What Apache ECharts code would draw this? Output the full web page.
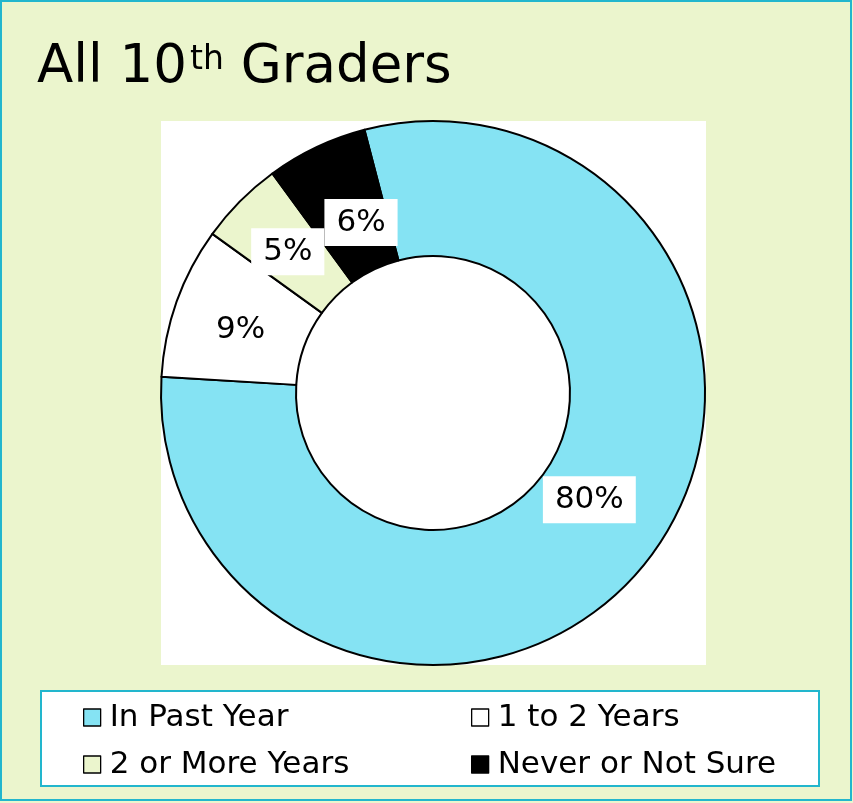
<!DOCTYPE html>
<html>
<head>
<meta charset="utf-8">
<script src="https://cdn.jsdelivr.net/npm/echarts@6/dist/echarts.min.js"></script>
<style>html,body{margin:0;padding:0;background:#EBF5CD}#c{width:853px;height:803px}</style>
</head>
<body>
<div id="c"></div>
<script>
var categories = ['In Past Year', '1 to 2 Years', '2 or More Years', 'Never or Not Sure'];
var values = [80, 9, 5, 6];
var colors = ['#85E3F3', '#FFFFFF', '#EBF5CD', '#000000'];

var FONT = '"DejaVu Sans", Verdana, sans-serif';
var chart = echarts.init(document.getElementById('c'), null, {renderer: 'canvas'});

var legendPos = [[78, 697], [466, 697], [78, 744], [466, 744]];
var legends = categories.map(function (name, i) {
  return {
    data: [name], left: legendPos[i][0], top: legendPos[i][1],
    orient: 'horizontal', itemWidth: 17, itemHeight: 17, itemGap: 0,
    icon: 'rect', selectedMode: false,
    itemStyle: {borderColor: '#000', borderWidth: 1.3},
    textStyle: {fontFamily: FONT, fontSize: 31, color: '#000', padding: [0, 0, 0, 4]}
  };
});

var labelOffsets = [[-4, -25], [3, 7], [2, 5], [17, 17]];

chart.setOption({
  backgroundColor: '#EBF5CD',
  animation: false,
  title: {
    left: 32, top: 30,
    text: '{a|All 10}{s|th}{a| Graders}',
    textStyle: {
      rich: {
        a: {fontFamily: FONT, fontSize: 53, fontWeight: 'normal', color: '#000', lineHeight: 60, verticalAlign: 'bottom'},
        s: {fontFamily: FONT, fontSize: 33, fontWeight: 'normal', color: '#000', lineHeight: 50, verticalAlign: 'top', padding: [9, 0, 0, 3]}
      }
    }
  },
  graphic: [
    {type: 'rect', z: -10, shape: {x: 1, y: 1, width: 850, height: 799}, style: {fill: '#EBF5CD', stroke: '#22B6CD', lineWidth: 2}},
    {type: 'rect', z: -9, shape: {x: 161, y: 121, width: 545, height: 544}, style: {fill: '#FFFFFF'}},
    {type: 'rect', z: -9, shape: {x: 41, y: 691, width: 778, height: 95}, style: {fill: '#FFFFFF', stroke: '#22B6CD', lineWidth: 2}}
  ],
  legend: legends,
  series: [{
    type: 'pie',
    center: [433, 393],
    radius: [137, 272],
    startAngle: 104.6,
    clockwise: true,
    avoidLabelOverlap: false,
    itemStyle: {borderColor: '#000', borderWidth: 2},
    label: {
      show: true, position: 'inside',
      formatter: '{c}%',
      fontFamily: FONT, fontSize: 31, color: '#000',
      backgroundColor: '#FFFFFF', padding: [8, 12, 8, 12]
    },
    labelLayout: function (p) {
      var o = labelOffsets[p.dataIndex];
      return {dx: o[0], dy: o[1]};
    },
    emphasis: {disabled: true},
    data: categories.map(function (n, i) {
      return {name: n, value: values[i], itemStyle: {color: colors[i]}};
    })
  }]
});
</script>
</body>
</html>
